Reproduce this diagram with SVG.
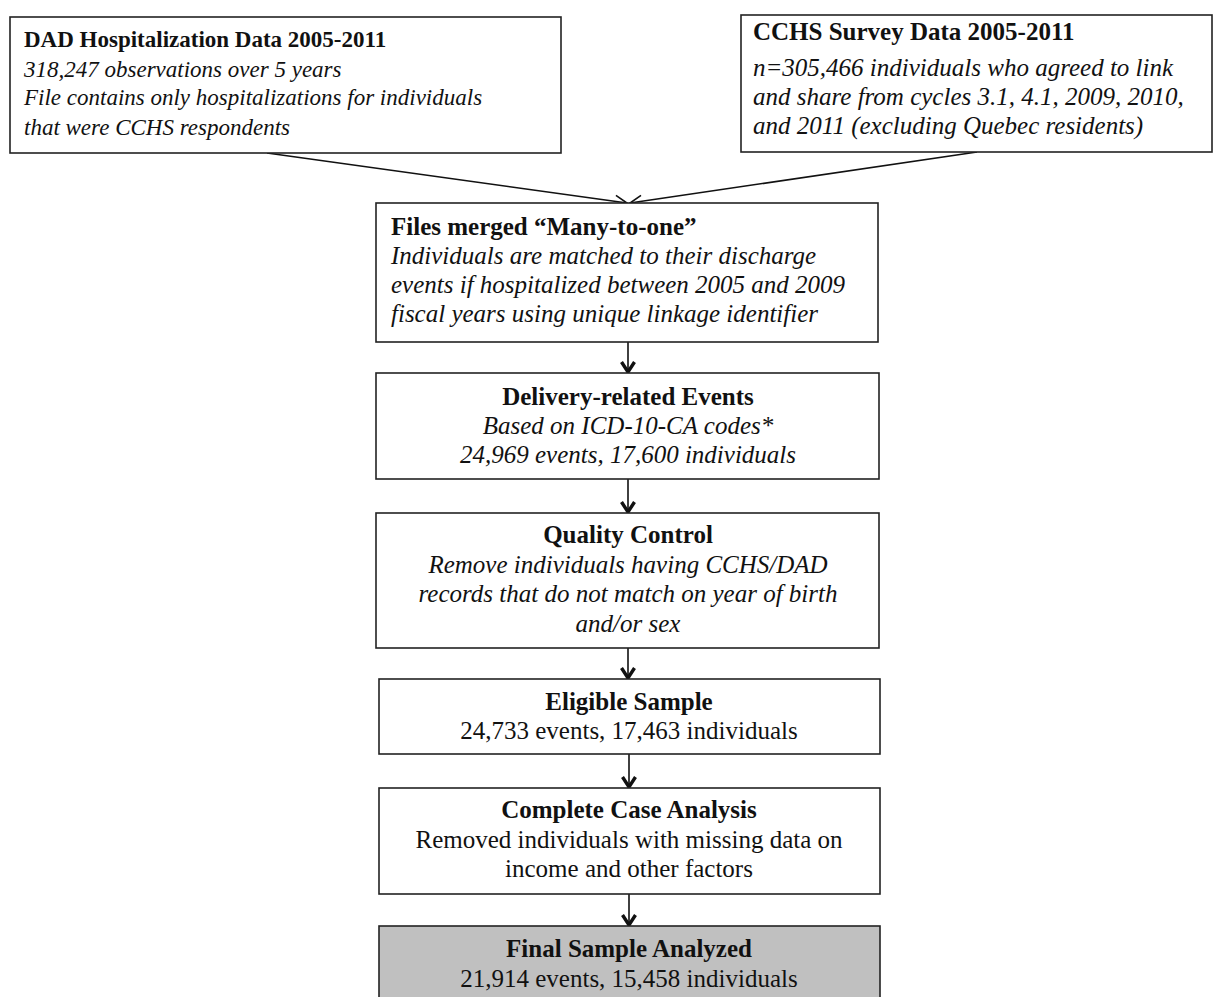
<svg xmlns="http://www.w3.org/2000/svg" width="1214" height="997" viewBox="0 0 1214 997">
<defs>
<style>
.box{fill:#fff;stroke:#222;stroke-width:1.6}
.grey{fill:#c0c0c0}
text{font-family:"Liberation Serif","Times New Roman",serif;font-size:25px;fill:#111}
.s{font-size:23px}
.b{font-weight:bold}
.i{font-style:italic}
.c{text-anchor:middle}
.conn{stroke:#111;stroke-width:1.6;fill:none}
</style>
<marker id="ah" viewBox="0 0 14 14" refX="13" refY="7" markerWidth="14" markerHeight="14" markerUnits="userSpaceOnUse" orient="auto">
<path d="M1,1 L13,7 L1,13" fill="none" stroke="#111" stroke-width="1.6"/>
</marker>
<marker id="ah2" viewBox="0 0 14 16" refX="13" refY="8" markerWidth="14" markerHeight="16" markerUnits="userSpaceOnUse" orient="auto">
<path d="M2,1.5 L12,8 L2,14.5" fill="none" stroke="#111" stroke-width="3.4" stroke-linejoin="miter"/>
</marker>
</defs>
<g id="connectors">
<line class="conn" x1="267" y1="153" x2="627" y2="203" marker-end="url(#ah)"/>
<line class="conn" x1="977" y1="152" x2="630" y2="203" marker-end="url(#ah)"/>
<line class="conn" x1="628" y1="342" x2="628" y2="373" marker-end="url(#ah2)"/>
<line class="conn" x1="628" y1="479" x2="628" y2="513" marker-end="url(#ah2)"/>
<line class="conn" x1="628" y1="648" x2="628" y2="679" marker-end="url(#ah2)"/>
<line class="conn" x1="629" y1="754" x2="629" y2="788" marker-end="url(#ah2)"/>
<line class="conn" x1="629" y1="894" x2="629" y2="926" marker-end="url(#ah2)"/>
</g>
<g id="dad">
<rect class="box" x="10" y="17" width="551" height="136"/>
<text class="b s" x="24" y="47">DAD Hospitalization Data 2005-2011</text>
<text class="i s" x="24" y="77">318,247 observations over 5 years</text>
<text class="i s" x="24" y="105">File contains only hospitalizations for individuals</text>
<text class="i s" x="24" y="135">that were CCHS respondents</text>
</g>
<g id="cchs">
<rect class="box" x="741" y="15" width="471" height="137"/>
<text class="b" x="753" y="40">CCHS Survey Data 2005-2011</text>
<text class="i" x="753" y="76">n=305,466 individuals who agreed to link</text>
<text class="i" x="753" y="105">and share from cycles 3.1, 4.1, 2009, 2010,</text>
<text class="i" x="753" y="134">and 2011 (excluding Quebec residents)</text>
</g>
<g id="merged">
<rect class="box" x="376" y="203" width="502" height="139"/>
<text class="b" x="391" y="235">Files merged “Many-to-one”</text>
<text class="i" x="391" y="264">Individuals are matched to their discharge</text>
<text class="i" x="391" y="293">events if hospitalized between 2005 and 2009</text>
<text class="i" x="391" y="322">fiscal years using unique linkage identifier</text>
</g>
<g id="delivery">
<rect class="box" x="376" y="373" width="503" height="106"/>
<text class="b c" x="628" y="405">Delivery-related Events</text>
<text class="i c" x="628" y="434">Based on ICD-10-CA codes*</text>
<text class="i c" x="628" y="463">24,969 events, 17,600 individuals</text>
</g>
<g id="quality">
<rect class="box" x="376" y="513" width="503" height="135"/>
<text class="b c" x="628" y="543">Quality Control</text>
<text class="i c" x="628" y="573">Remove individuals having CCHS/DAD</text>
<text class="i c" x="628" y="602">records that do not match on year of birth</text>
<text class="i c" x="628" y="632">and/or sex</text>
</g>
<g id="eligible">
<rect class="box" x="379" y="679" width="501" height="75"/>
<text class="b c" x="629" y="710">Eligible Sample</text>
<text class="c" x="629" y="739">24,733 events, 17,463 individuals</text>
</g>
<g id="complete">
<rect class="box" x="379" y="788" width="501" height="106"/>
<text class="b c" x="629" y="818">Complete Case Analysis</text>
<text class="c" x="629" y="848">Removed individuals with missing data on</text>
<text class="c" x="629" y="877">income and other factors</text>
</g>
<g id="final">
<rect class="box grey" x="379" y="926" width="501" height="80"/>
<text class="b c" x="629" y="957">Final Sample Analyzed</text>
<text class="c" x="629" y="987">21,914 events, 15,458 individuals</text>
</g>
</svg>
